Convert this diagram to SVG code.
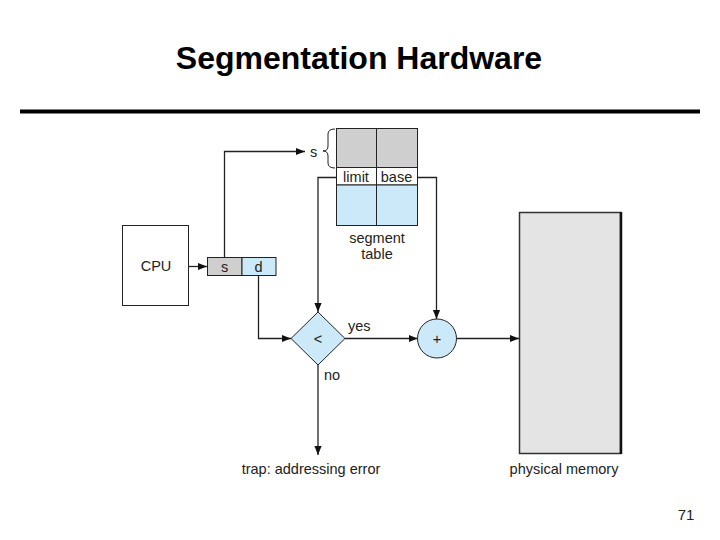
<svg xmlns="http://www.w3.org/2000/svg" width="720" height="540" viewBox="0 0 720 540">
<defs>
<marker id="ah" viewBox="0 0 10 10" refX="10" refY="5" markerWidth="9" markerHeight="9" markerUnits="userSpaceOnUse" orient="auto">
<path d="M0,1 L10,5 L0,9 z" fill="#111"/>
</marker>
</defs>
<style>
text{font-family:"Liberation Sans",Arial,sans-serif;fill:#222}
.lbl{font-size:14.5px}
.ln{fill:none;stroke:#222;stroke-width:1.3}
.box{stroke:#222;stroke-width:1}
</style>
<rect width="720" height="540" fill="#fff"/>
<text x="359" y="69" text-anchor="middle" font-size="32" font-weight="bold" style="fill:#000">Segmentation Hardware</text>
<line x1="20" y1="111.5" x2="700" y2="111.5" stroke="#000" stroke-width="4"/>

<g id="cpu">
<rect class="box" x="122.5" y="225.5" width="66" height="80" fill="#fff"/>
<text class="lbl" x="156" y="271" text-anchor="middle">CPU</text>
</g>
<g id="addr">
<rect class="box" x="207.5" y="257.5" width="34.5" height="18" fill="#cfcfcf"/>
<rect class="box" x="242" y="257.5" width="34" height="18" fill="#cbe9f8"/>
<text class="lbl" x="224.5" y="271.5" text-anchor="middle">s</text>
<text class="lbl" x="258.5" y="271.5" text-anchor="middle">d</text>
</g>
<g id="segtable">
<rect x="336.5" y="128.5" width="81" height="39" fill="#cfcfcf" class="box"/>
<rect x="336.5" y="167.5" width="81" height="17.5" fill="#fff" class="box"/>
<rect x="336.5" y="185" width="81" height="40.5" fill="#cbe9f8" class="box"/>
<line x1="376.5" y1="128.5" x2="376.5" y2="225.5" stroke="#222"/>
<text class="lbl" x="356" y="181.5" text-anchor="middle">limit</text>
<text class="lbl" x="396.5" y="181.5" text-anchor="middle">base</text>
<text class="lbl" x="377" y="243" text-anchor="middle">segment</text>
<text class="lbl" x="377" y="259" text-anchor="middle">table</text>
<path d="M335,129 Q328,129 328,134 L328,146 Q328,151 323,151 Q328,151 328,156 L328,163 Q328,168 335,168" fill="none" stroke="#222" stroke-width="1"/>
<text class="lbl" x="313.5" y="156.5" text-anchor="middle">s</text>
</g>
<g id="compare">
<path d="M318,312 L345,338.5 L318,365 L291,338.5 z" fill="#cbe9f8" stroke="#222" stroke-width="1"/>
<text class="lbl" x="318" y="343.5" text-anchor="middle">&lt;</text>
</g>
<g id="adder">
<circle cx="437" cy="338.5" r="19.5" fill="#cbe9f8" stroke="#222" stroke-width="1"/>
<text class="lbl" x="437" y="343.5" text-anchor="middle">+</text>
</g>
<g id="memory">
<rect x="519.5" y="212.5" width="101" height="241" fill="#e4e4e4" stroke="#333" stroke-width="1.5"/>
<line x1="621" y1="212" x2="621" y2="454" stroke="#111" stroke-width="2.5"/>
<text class="lbl" x="564" y="473.5" text-anchor="middle">physical memory</text>
</g>
<g id="trap">
<text class="lbl" x="311" y="473.5" text-anchor="middle">trap: addressing error</text>
</g>
<g id="connectors">
<line class="ln" x1="189" y1="266.5" x2="207" y2="266.5" marker-end="url(#ah)"/>
<polyline class="ln" points="224.5,257.5 224.5,151.5 305,151.5" marker-end="url(#ah)"/>
<polyline class="ln" points="258.5,275.5 258.5,338.5 291,338.5" marker-end="url(#ah)"/>
<polyline class="ln" points="336.5,177.5 318,177.5 318,312" marker-end="url(#ah)"/>
<polyline class="ln" points="417.5,177.5 436.5,177.5 436.5,319" marker-end="url(#ah)"/>
<line class="ln" x1="345" y1="338.5" x2="417.5" y2="338.5" marker-end="url(#ah)"/>
<line class="ln" x1="456.5" y1="338.5" x2="519" y2="338.5" marker-end="url(#ah)"/>
<line class="ln" x1="318" y1="365" x2="318" y2="455" marker-end="url(#ah)"/>
<text class="lbl" x="348" y="331">yes</text>
<text class="lbl" x="324" y="380">no</text>
</g>
<text x="686" y="520" text-anchor="middle" font-size="15">71</text>
</svg>
